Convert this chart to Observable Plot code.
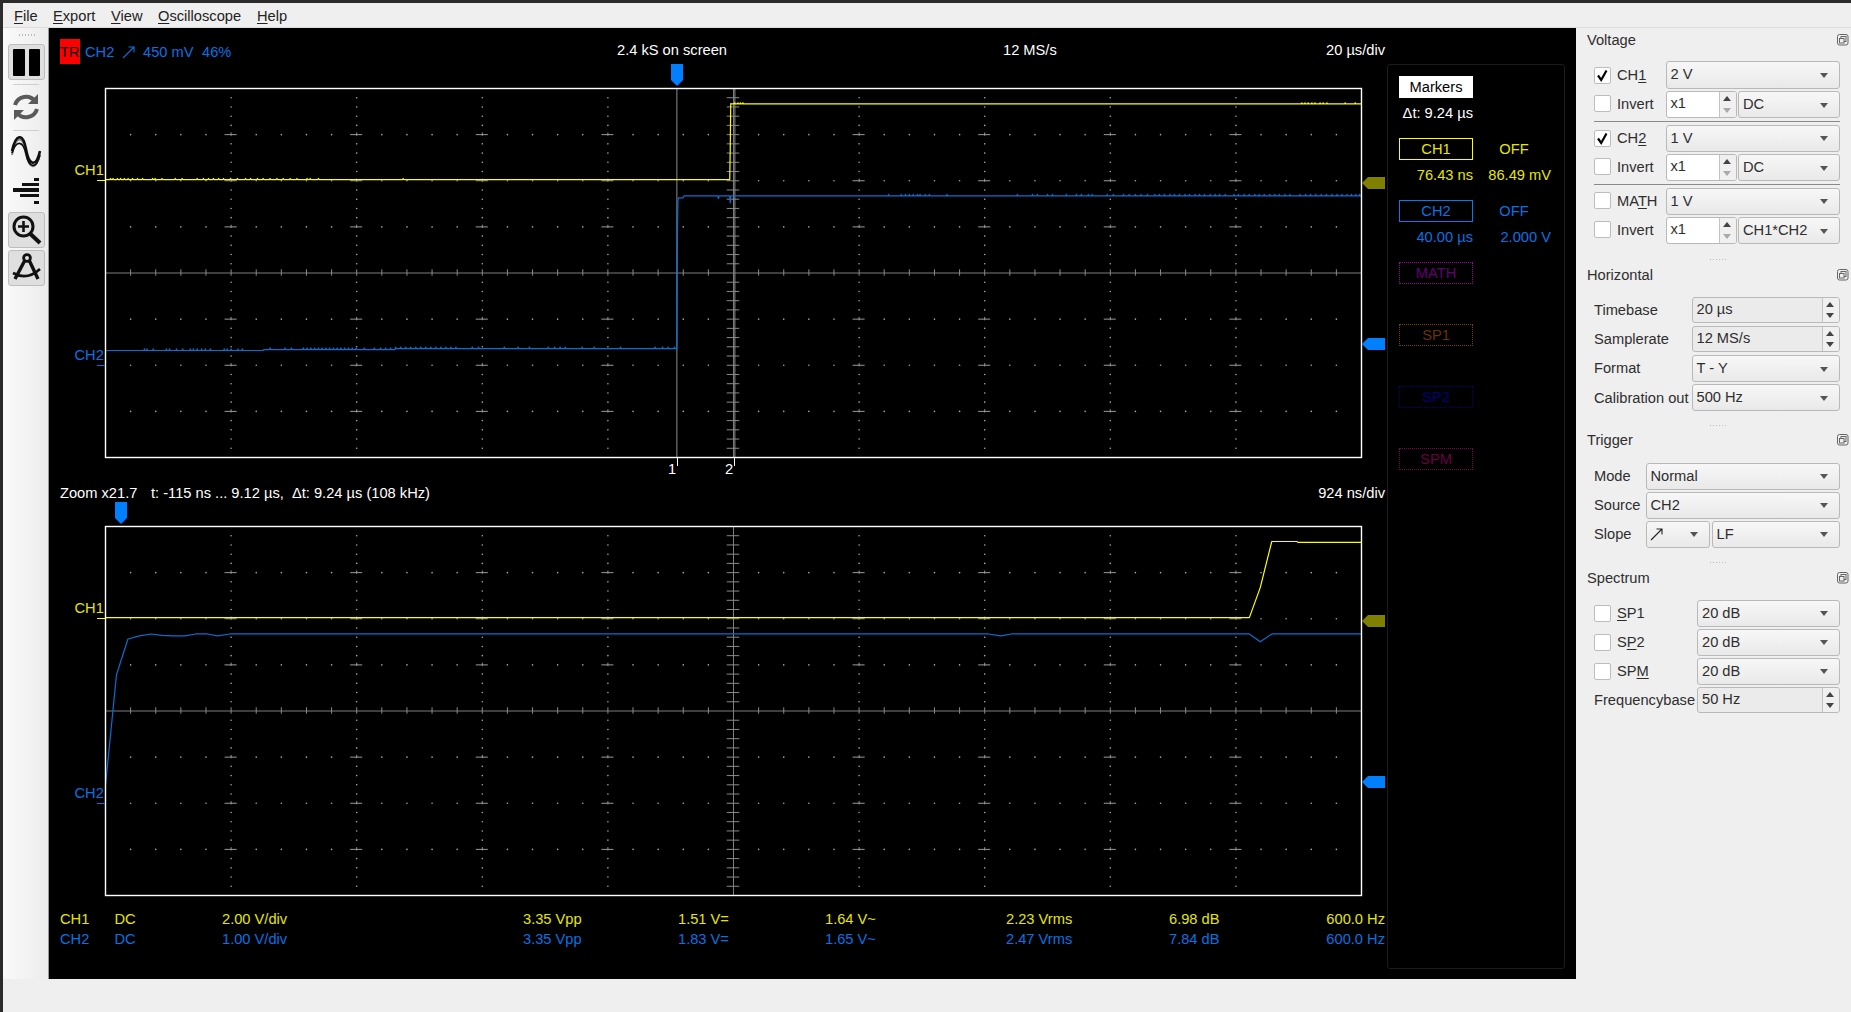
<!DOCTYPE html>
<html>
<head>
<meta charset="utf-8">
<script src="https://cdn.jsdelivr.net/npm/d3@7"></script>
<script src="https://cdn.jsdelivr.net/npm/@observablehq/plot@0.6"></script>
<style>
html,body{margin:0;padding:0;width:1851px;height:1012px;overflow:hidden;background:#efefef;font-family:"Liberation Sans",Arial,sans-serif;font-size:14.67px;color:#2e2e2e}
#root{position:relative;width:1851px;height:1012px;overflow:hidden}
.a{position:absolute;box-sizing:border-box}
.t{position:absolute;white-space:pre;line-height:20px;height:20px}
.combo{position:absolute;box-sizing:border-box;border:1px solid #b9b9b9;border-radius:3px;background:linear-gradient(#f7f7f7,#e9e9e9);line-height:24px;padding-left:4px;white-space:pre}
.combo:after{content:"";position:absolute;right:11px;top:50%;margin-top:-2px;border-left:4.5px solid transparent;border-right:4.5px solid transparent;border-top:5px solid #555}
.spin{position:absolute;box-sizing:border-box;border:1px solid #b9b9b9;border-radius:3px;background:#ebebeb;line-height:23px;padding-left:4px;white-space:pre}
.spin.w{background:#fff}
.spin i{position:absolute;right:0;top:0;bottom:0;width:16px;border-left:1px solid #c4c4c4;background:#f0f0f0;border-radius:0 2px 2px 0}
.spin i:before{content:"";position:absolute;left:3px;top:4px;border-left:4px solid transparent;border-right:4px solid transparent;border-bottom:5px solid #444}
.spin i:after{content:"";position:absolute;left:3px;bottom:4px;border-left:4px solid transparent;border-right:4px solid transparent;border-top:5px solid #444}
.spin.w i:after{border-top-color:#aaa}
.chk{position:absolute;box-sizing:border-box;width:17px;height:17px;border:1px solid #bdbdbd;border-radius:2px;background:#fff;line-height:15px;text-align:center;color:#000;font-size:15px;font-weight:bold}
u{text-decoration-thickness:1px;text-underline-offset:2px}
svg{display:block}
</style>
</head>
<body>
<div id="root"></div>
<script>
// ---- Chart values ----
const zoomWindow = [-0.115, 9.125];      // µs, lower plot
const screenWindow = [-91.1, 108.9];     // µs, upper plot
const divisionsX = d3.range(0, 11);
const divisionsY = d3.range(-4, 5);
const voltsPerDivCh1 = 2, voltsPerDivCh2 = 1;
const ch1Zero = 2, ch2Zero = -2;         // divisions
const cursors = [-0.115, 9.12];

// upper plot: CH1
const ch1T = [-91.1, 8.22, 8.30, 8.38, 8.46, 8.65, 108.9];
const ch1V = [0.05, 0.05, 0.05, 1.35, 3.35, 3.33, 3.33];
const ch1BlipsLow = [-90.3,-89.9,-89.2,-88.7,-88.1,-87.5,-86.8,-86,-85.2,-83.6,-83.2,-82.1,-80,-78.9,-76.5,-75.5,-74.7,-73.9,-73.1,-72.3,-71.2,-70.1,-68.8,-68,-66.9,-66,-64.9,-63.8,-62.8,-61.7,-60.6,-59,-58.5,-57.2,-43.7];
const ch1BlipsHigh = [9.1,9.6,10.0,10.4,99.4,99.9,100.4,101,101.5,102.3,102.8,103.4,106.3,107.9];

// upper plot: CH2
const ch2T = [-91.1, -66, -65.9, -45, -44.9, -0.12, -0.034, 0.05, 0.135, 0.9, 1.0, 6.4, 6.5, 6.6, 8.3, 8.38, 8.46, 108.9];
const ch2V = [0.32, 0.32, 0.34, 0.34, 0.36, 0.36, 2.79, 3.56, 3.63, 3.63, 3.67, 3.67, 3.61, 3.67, 3.67, 3.52, 3.67, 3.67];
const ch2BlipsLow = [-84.9,-84.5,-83.5,-81.4,-80.9,-79.8,-78.8,-77.6,-77.1,-76.5,-75.8,-75.2,-74.4,-72.2,-71.7,-71.1,-70,-69.3,-64.9,-62.5,-61.5,-59.6,-59,-58.4,-57.8,-57.2,-56.6,-56,-55.4,-54.8,-54.2,-53.6,-53,-52.4,-51.8,-51.2,-49.9,-48.3,-47.3,-46.5,-45.7,-44.9,-44.1,-43.3,-42.5,-41.7,-40.9,-40.1,-39.3,-38.5,-37.7,-36.9,-36.1,-35.3,-32.7,-31.7,-27.6,-25.4,-23.6,-20.6,-19.6,-18.7,-17.9,-15.2,-13.3,-9.1,-3.6,-2.4,-1.5,-0.5];
const ch2BlipsHigh = [33.6,35.6,36.3,36.9,37.5,38.2,38.6,39.4,40.1,42.9,54.1,56.5,57.3,58.9,59.7,61.9,63.5,64.3,65.4,66,68.4,69.4,71,71.9,72.9,73.8,74.8,76,76.7,77.5,78.4,79.1,79.9,80.8,81.5,82.4,83.1,83.9,84.8,85.6,86.3,87.2,88.6,89.3,90.2,91,91.9,92.6,93.4,94.3,95.1,95.8,96.7,97.5,99.1,100,100.8,101.6,102.5,103.3,104.2,105,105.8,106.6,107.3,108,108.6];

// lower plot: the same capture, sample by sample
const zoomCh1T = [-0.115, 8.30, 8.38, 8.465, 8.65, 8.66, 9.125];
const zoomCh1V = [0.05, 0.05, 1.35, 3.35, 3.35, 3.31, 3.31];
const zoomCh2T = [-0.115,-0.034,0.05,0.135,0.22,0.30,0.385,0.47,0.55,0.635,0.71,0.80,1.0,6.38,6.47,6.55,8.30,8.38,8.465,9.125];
const zoomCh2V = [0.39,2.79,3.56,3.63,3.67,3.64,3.63,3.63,3.67,3.67,3.63,3.67,3.67,3.67,3.63,3.67,3.67,3.50,3.67,3.67];

// ---- Text values ----
const stats = [
  {ch:"CH1",coupling:"DC",scale:"2.00 V/div",vpp:"3.35 Vpp",dc:"1.51 V=",ac:"1.64 V~",rms:"2.23 Vrms",db:"6.98 dB",hz:"600.0 Hz"},
  {ch:"CH2",coupling:"DC",scale:"1.00 V/div",vpp:"3.35 Vpp",dc:"1.83 V=",ac:"1.65 V~",rms:"2.47 Vrms",db:"7.84 dB",hz:"600.0 Hz"}
];
const menuLabels = [["<u>F</u>ile",14],["<u>E</u>xport",53],["<u>V</u>iew",111],["<u>O</u>scilloscope",158],["<u>H</u>elp",257]];

const YEL="#e6e600", BLU="#0a72e0", YL="#ffff00", BL="#0a6fd2";
const root=document.getElementById("root");
function box(x,y,w,h,css,html){const d=document.createElement("div");d.className="a";d.style.cssText+=`left:${x}px;top:${y}px;width:${w}px;height:${h}px;${css||""}`;if(html)d.innerHTML=html;root.appendChild(d);return d}
function txt(x,yc,s,color,right){const d=document.createElement("div");d.className="t";d.innerHTML=s;d.style.top=(yc-10)+"px";if(right!=null&&right){d.style.right=(1851-x)+"px"}else d.style.left=x+"px";if(color)d.style.color=color;root.appendChild(d);return d}
function ctr(x,yc,s,color){const d=txt(x,yc,s,color);d.style.transform="translateX(-50%)";return d}
function combo(x,y,w,h,s){const d=document.createElement("div");d.className="combo";d.style.cssText+=`left:${x}px;top:${y}px;width:${w}px;height:${h}px`;d.textContent=s;root.appendChild(d)}
function spin(x,y,w,h,s,white){const d=document.createElement("div");d.className="spin"+(white?" w":"");d.style.cssText+=`left:${x}px;top:${y}px;width:${w}px;height:${h}px`;d.innerHTML=s+"<i></i>";root.appendChild(d)}
function chk(x,y,on){const d=document.createElement("div");d.className="chk";d.style.left=x+"px";d.style.top=y+"px";if(on)d.innerHTML='<svg width="15" height="15" viewBox="0 0 15 15"><path d="M3 7.5 L6.2 12 L11.5 2.5" fill="none" stroke="#000" stroke-width="2.2"/></svg>';root.appendChild(d)}

// ---- window chrome ----
box(0,0,1851,3,"background:#2b2b2b");
box(0,0,3,1012,"background:#2b2b2b");
box(3,3,1848,25,"background:#efefef;border-bottom:1px solid #dcdcdc");
menuLabels.forEach(([s,x])=>txt(x,15.5,s,"#222"));
box(3,28,46,951,"background:linear-gradient(90deg,#fafafa,#ececec);border-right:1px solid #999");
box(49,28,1527,951,"background:#000");

// ---- left toolbar ----
box(19,34,16,2,"background:repeating-linear-gradient(90deg,#bbb 0 1px,transparent 1px 3px)");
const btn="background:#dfdfdf;border:1px solid #bdbdbd;border-radius:3px;";
box(7.5,43.5,37,36,btn,'<svg width="35" height="34"><rect x="4" y="4" width="12" height="27" rx="1"/><rect x="20" y="4" width="11" height="27" rx="1"/></svg>');
box(13,84,26,1,"background:#cfcfcf");
box(12,92,28,30,"",'<svg width="28" height="30" fill="none" stroke="#5a5a5a" stroke-width="4"><path d="M3 13 A11.5 11.5 0 0 1 23 9"/><path d="M25 17 A11.5 11.5 0 0 1 5 21"/><path d="M26 2 V12 H16" fill="#5a5a5a" stroke="none"/><path d="M2 28 V18 H12" fill="#5a5a5a" stroke="none"/></svg>');
box(13,130,26,1,"background:#cfcfcf");
box(10,136,32,34,"",'<svg width="32" height="34" fill="none"><path d="M2 17 C6 -4 13 -2 16 14 C19 32 26 34 30 14" stroke="#888" stroke-width="2" transform="translate(0,2)"/><path d="M2 15 C6 -3 13 -3 16 13 C19 30 26 32 30 15" stroke="#111" stroke-width="2.6"/><path d="M2 17 C6 4 13 4 16 18 C19 32 26 34 30 19" stroke="#111" stroke-width="1.8"/></svg>');
box(12,176,28,30,"",'<svg width="28" height="30" fill="#111"><rect x="22" y="2" width="5" height="3"/><rect x="10" y="7" width="17" height="3"/><rect x="1" y="12" width="26" height="4"/><rect x="8" y="18" width="19" height="3"/><rect x="22" y="25" width="5" height="3"/></svg>');
box(7.5,211.5,37,36,btn,'<svg width="35" height="34" fill="none" stroke="#111"><circle cx="14.5" cy="13.5" r="9.5" stroke-width="3"/><path d="M14.5 8 V19 M9 13.5 H20" stroke-width="2.6"/><path d="M21.5 21 L31 30" stroke-width="4"/></svg>');
box(7.5,249.5,37,36,btn,'<svg width="35" height="34" fill="none" stroke="#111" stroke-width="2.8"><circle cx="18" cy="7" r="3.4"/><path d="M15.5 10 L6 28 M20.5 10 L29 28" stroke-width="3.4"/><path d="M4 22 Q18 30 31 18" stroke-width="2.6"/></svg>');

// ---- plots ----
function toDiv(t,win){return (t-win[0])/(win[1]-win[0])*10}
function levelAt(T,V,t){let v=V[0];for(let i=0;i<T.length;i++){if(T[i]<=t)v=V[i];else break}return v}
function trace(T,V,zero,vdiv,win,blips,delta){
  const pts=T.map((t,i)=>({t,v:V[i]}));
  (blips||[]).forEach(t=>{const l=levelAt(T,V,t);pts.push({t:t-0.09,v:l},{t,v:l+delta},{t:t+0.09,v:l})});
  pts.sort((a,b)=>a.t-b.t);
  return pts.map(p=>({x:toDiv(p.t,win),y:zero+p.v/vdiv}));
}
const minor=d3.range(0,51).map(i=>i/5);
const minorY=d3.range(0,41).map(i=>i/5-4);
const inCols=divisionsX.filter(c=>c>0&&c<10&&c!==5);
const inRows=divisionsY.filter(r=>r>-4&&r<4&&r!==0);
const dotsCol=inCols.flatMap(c=>minorY.filter(y=>Math.abs(y)<4&&!Number.isInteger(y)).map(y=>({x:c,y})));
const dotsRow=inRows.flatMap(r=>minor.filter(x=>x>0&&x<10&&!Number.isInteger(x)).map(x=>({x,y:r})));
const crossH=inCols.flatMap(c=>inRows.map(r=>({x1:c-0.048,x2:c+0.048,y:r})));
const crossV=inCols.flatMap(c=>inRows.map(r=>({y1:r-0.035,y2:r+0.035,x:c})));
const comboH=minorY.filter(y=>Math.abs(y)<4&&y!==0).map(y=>({x1:5-0.05,x2:5+0.05,y}));
const comboV=minor.filter(x=>x>0&&x<10&&x!==5).map(x=>({x,y1:-0.07,y2:0.07}));
function scope(series,cur,win){
  const marks=[
    Plot.ruleY([0],{stroke:"#7c7c7c",strokeWidth:1}),
    Plot.ruleX([5],{stroke:"#7c7c7c",strokeWidth:1}),
    Plot.dot(dotsCol,{x:"x",y:"y",r:0.8,fill:"#a8a8a8",stroke:"none"}),
    Plot.dot(dotsRow,{x:"x",y:"y",r:0.8,fill:"#a8a8a8",stroke:"none"}),
    Plot.ruleY(crossH,{y:"y",x1:"x1",x2:"x2",stroke:"#9a9a9a"}),
    Plot.ruleX(crossV,{x:"x",y1:"y1",y2:"y2",stroke:"#9a9a9a"}),
    Plot.ruleY(comboH,{y:"y",x1:"x1",x2:"x2",stroke:"#8a8a8a"}),
    Plot.ruleX(comboV,{x:"x",y1:"y1",y2:"y2",stroke:"#8a8a8a"})
  ];
  if(cur)marks.push(Plot.ruleX(cur.map(t=>toDiv(t,win)),{stroke:"#8c8c8c",strokeWidth:1}));
  series.forEach(s=>marks.push(Plot.line(s.pts,{x:"x",y:"y",stroke:s.color,strokeWidth:1.2})));
  marks.push(Plot.frame({stroke:"#ffffff",strokeWidth:1.4}));
  return Plot.plot({width:1258,height:371,marginTop:1,marginBottom:1,marginLeft:1,marginRight:1,
    x:{domain:[0,10],axis:null},y:{domain:[-4,4],axis:null},style:{background:"transparent",overflow:"visible"},marks});
}
function place(el,x,y){el.style.position="absolute";el.style.left=x+"px";el.style.top=y+"px";root.appendChild(el)}
place(scope([
  {pts:trace(ch1T,ch1V,ch1Zero,voltsPerDivCh1,screenWindow,ch1BlipsLow.concat(ch1BlipsHigh),0.05),color:YL},
  {pts:trace(ch2T,ch2V,ch2Zero,voltsPerDivCh2,screenWindow,ch2BlipsLow.concat(ch2BlipsHigh),0.035),color:BL}
],cursors,screenWindow),104,87);
place(scope([
  {pts:trace(zoomCh1T,zoomCh1V,ch1Zero,voltsPerDivCh1,zoomWindow),color:YL},
  {pts:trace(zoomCh2T,zoomCh2V,ch2Zero,voltsPerDivCh2,zoomWindow),color:BL}
],null,zoomWindow),104,525);

// ---- scope annotations ----
box(60,39,20,25,"background:#ff0000");
txt(60,52,"TR","#000");
txt(85,52,"CH2",BLU);
box(121,44,16,16,"",'<svg width="16" height="16" fill="none" stroke="#0a72e0" stroke-width="1.1"><path d="M2 14 L13 3 M7.5 3 H13 V8.5"/></svg>');
txt(143,52,"450 mV",BLU);txt(202,52,"46%",BLU);
txt(617,50,"2.4 kS on screen","#fff");
txt(1003,50,"12 MS/s","#fff");
txt(1385,50,"20 µs/div","#fff",true);
txt(60,492.5,"Zoom x21.7","#fff");
txt(151,492.5,"t: -115 ns ... 9.12 µs,  Δt: 9.24 µs (108 kHz)","#fff");
txt(1385,492.5,"924 ns/div","#fff",true);
function downMarker(x,y){box(x,y,12,22,"",'<svg width="12" height="22"><path d="M0 0 H12 V16 L6 22 L0 16 Z" fill="#0080ff"/></svg>')}
downMarker(671,64);downMarker(115,502);
function leftArrow(y,c){box(1362,y-6,23,12,"",`<svg width="23" height="12"><path d="M0 6 L6 0 H23 V12 H6 Z" fill="${c}"/></svg>`)}
leftArrow(182.5,"#808000");leftArrow(344,"#0080ff");leftArrow(620.5,"#808000");leftArrow(781.5,"#0080ff");
[[170,180,"CH1",YEL,"#ffff00"],[355,365,"CH2",BLU,"#0a72e0"],[608,618,"CH1",YEL,"#ffff00"],[793,803,"CH2",BLU,"#0a72e0"]].forEach(([yc,yt,s,c,tc])=>{
  txt(74.5,yc,s,c);box(97,yt,8,1,"background:"+tc);
});
box(677,457,1,9,"background:#fff");box(734,457,1,9,"background:#fff");
ctr(672,469,"1","#fff");ctr(729,469,"2","#fff");

// ---- marker panel ----
box(1386.5,63.5,178,905,"border:1px solid #1c1c1c;border-radius:3px");
box(1399,76,74,22,"background:#fff;color:#000;text-align:center;line-height:22px","Markers");
txt(1473,113,"Δt: 9.24 µs","#fff",true);
function mbox(y,c,tc,s,dotted){box(1399,y,74,22,`border:${dotted?"1px dotted":"1px solid"} ${c};color:${tc};text-align:center;line-height:20px`,s)}
mbox(138,"#ffff00",YEL,"CH1");mbox(200,"#0a78f0",BLU,"CH2");
ctr(1514,149,"OFF",YEL);ctr(1514,211,"OFF",BLU);
txt(1473,175,"76.43 ns",YEL,true);txt(1551,175,"86.49 mV",YEL,true);
txt(1473,237,"40.00 µs",BLU,true);txt(1551,237,"2.000 V",BLU,true);
mbox(262,"#a000a0","#620070","MATH",true);mbox(324,"#804000","#6a3400","SP1",true);
mbox(386,"#000080","#00007a","SP2",true);mbox(448,"#800050","#6a0040","SPM",true);

// ---- measurement rows ----
const statCols=[["ch",60],["coupling",114.5],["scale",222],["vpp",523],["dc",678],["ac",825],["rms",1006],["db",1169]];
stats.forEach((r,i)=>{
  const y=918.5+i*20.3,c=i?BLU:YEL;
  statCols.forEach(([k,x])=>txt(x,y,r[k],c));
  txt(1385,y,r.hz,c,true);
});

// ---- right control panel ----
function heading(y,s){txt(1587,y,s,"#2e2e2e");box(1837,y-6,12,12,"",'<svg width="12" height="12" fill="none" stroke="#666" stroke-width="1"><rect x="0.5" y="0.5" width="10.5" height="10.5" rx="2"/><rect x="4" y="2.5" width="5" height="5"/><rect x="2.5" y="4.5" width="4.5" height="4.5" fill="#efefef"/></svg>')}
function dots(y){box(1710,y,17,1,"background:repeating-linear-gradient(90deg,#bbb 0 1px,transparent 1px 3px)")}
heading(39.5,"Voltage");
chk(1594,67,true);txt(1617,75,"CH<u>1</u>");combo(1665.5,61,174,27.5,"2 V");
chk(1594,95,false);txt(1617,104,"Invert");spin(1665.5,91,71,27,"x1",true);combo(1738,91,102,27,"DC");
box(1594,121,246,1,"background:#8a8a8a");
chk(1594,130,true);txt(1617,138,"CH<u>2</u>");combo(1665.5,124.5,174,27,"1 V");
chk(1594,158,false);txt(1617,167,"Invert");spin(1665.5,154,71,27,"x1",true);combo(1738,154,102,27,"DC");
box(1594,184,246,1,"background:#8a8a8a");
chk(1594,192,false);txt(1617,201,"MA<u>T</u>H");combo(1665.5,187.5,174,27,"1 V");
chk(1594,221,false);txt(1617,230,"Invert");spin(1665.5,217,71,27,"x1",true);combo(1738,217,102,27,"CH1*CH2");
dots(259);
heading(274.5,"Horizontal");
txt(1594,310,"Timebase");spin(1691.5,297,148,26,"20 µs");
txt(1594,339,"Samplerate");spin(1691.5,326,148,26,"12 MS/s");
txt(1594,368,"Format");combo(1691.5,355,148,27,"T - Y");
txt(1594,397.5,"Calibration out");combo(1691.5,384,148,27,"500 Hz");
dots(425);
heading(440,"Trigger");
txt(1594,476,"Mode");combo(1645.5,462.5,194,27,"Normal");
txt(1594,505,"Source");combo(1645.5,491.5,194,27,"CH2");
txt(1594,534,"Slope");combo(1645.5,520.5,64,27,"");combo(1711.5,520.5,128,27,"LF");
box(1649,526,16,16,"",'<svg width="16" height="16" fill="none" stroke="#222" stroke-width="1.1"><path d="M2 14 L13 3 M7.5 3 H13 V8.5"/></svg>');
dots(562);
heading(577.5,"Spectrum");
chk(1594,605,false);txt(1617,613,"<u>S</u>P1");combo(1697,599.5,143,27,"20 dB");
chk(1594,634,false);txt(1617,642,"S<u>P</u>2");combo(1697,628.5,143,27,"20 dB");
chk(1594,663,false);txt(1617,671,"SP<u>M</u>");combo(1697,657.5,143,27,"20 dB");
txt(1594,700,"Frequencybase");spin(1697,687,143,26,"50 Hz");
</script>
</body>
</html>
